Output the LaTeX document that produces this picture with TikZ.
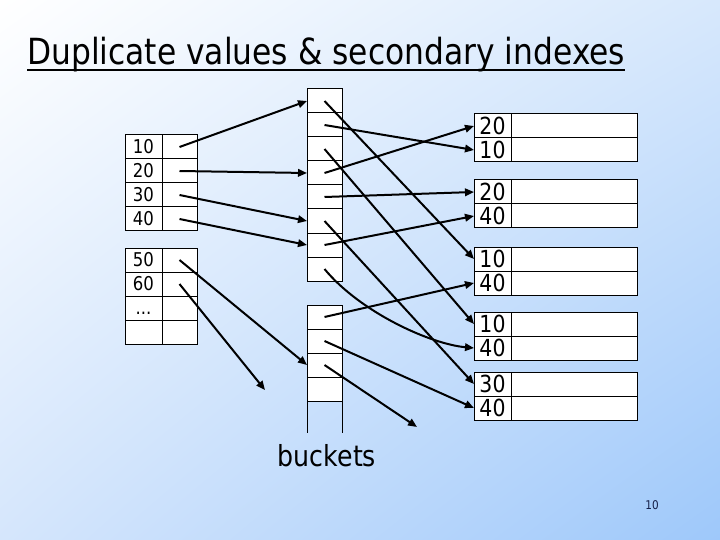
\documentclass[tikz,border=0pt]{standalone}
\usepackage{fontspec}
\usetikzlibrary{arrows.meta,shadings}
\newfontfamily\tah{DejaVu Sans}[FakeStretch=0.87]
\definecolor{bgtr}{RGB}{215,232,252}
\definecolor{bgbl}{RGB}{213,230,252}
\definecolor{bgbr}{RGB}{158,200,250}
\definecolor{pagenum}{RGB}{20,30,70}
\newcommand\tdots{...}
\tikzset{
  cell/.style={draw, line width=1pt, fill=white, inner sep=0pt, outer sep=0pt, anchor=north west, minimum height=24pt},
  kcell/.style={cell, minimum width=37pt, text height=13.5pt, text depth=0pt, font=\tah\fontsize{19}{19}\selectfont},
  pcell/.style={cell, minimum width=35pt},
  bcell/.style={cell, minimum width=35pt},
  rkey/.style={cell, minimum width=37pt, text height=17pt, text depth=0pt, font=\tah\fontsize{23.5}{23.5}\selectfont},
  rrest/.style={cell, minimum width=126pt},
  ptr/.style={line width=2pt, -{Triangle[length=9pt,width=7.5pt]}},
}
\begin{document}
\begin{tikzpicture}[x=1pt,y=-1pt]
\shade[upper left=white, upper right=bgtr, lower left=bgbl, lower right=bgbr] (0,0) rectangle (720,540);
\useasboundingbox (0,0) rectangle (720,540);

% title
\node[anchor=base west, inner sep=0pt, font=\tah\fontsize{36}{36}\selectfont] (title) at (27,65) {Duplicate values \& secondary indexes};
\draw[line width=1.8pt] ([yshift=-5pt]title.base west) -- ([yshift=-5pt]title.base east);

% index table 1
\foreach \v [count=\i] in {10,20,30,40}{
  \node[kcell] (k\i) at (125,{135+24*(\i-1)}) {\v};
  \node[pcell] (p\i) at (162,{135+24*(\i-1)}) {};
}
% index table 2
\foreach \v [count=\i] in {50,60,\tdots,{}}{
  \node[kcell] (m\i) at (125,{248+24*(\i-1)}) {\v};
  \node[pcell] (q\i) at (162,{248+24*(\i-1)}) {};
}

% bucket columns
\foreach \i in {1,...,8}{
  \node[bcell] (b\i) at (307,{89+24*(\i-1)}) {};
}
\foreach \i in {1,...,4}{
  \node[bcell] (c\i) at (307,{305+24*(\i-1)}) {};
}
\draw[line width=1pt] (c4.south west) -- ++(0,32);
\draw[line width=1pt] (c4.south east) -- ++(0,32);
\node[anchor=base, inner sep=0pt, font=\tah\fontsize{29}{29}\selectfont] (blabel) at (327,466) {buckets};

% records
\foreach \ka/\kb [count=\i] in {20/10,20/40,10/40,10/40,30/40}{
  \pgfmathsetmacro{\ty}{{114,180,247,312,372}[\i-1]}
  \node[rkey] (r\i a) at (474,\ty) {\ka};
  \node[rrest] (r\i ax) at (511,\ty) {};
  \node[rkey] (r\i b) at (474,\ty+24) {\kb};
  \node[rrest] (r\i bx) at (511,\ty+24) {};
}

% free ends
\coordinate (free1) at (265,390);
\coordinate (free2) at (417,427);

% index -> buckets
\draw[ptr] (p1.center) -- (b1.west);
\draw[ptr] (p2.center) -- (b4.west);
\draw[ptr] (p3.center) -- (b6.west);
\draw[ptr] (p4.center) -- (b7.west);
\draw[ptr] (q1.center) -- (c3.west);
\draw[ptr] (q2.center) -- (free1);

% buckets -> records
\draw[ptr] (b1.center) -- (r3a.west);
\draw[ptr] (b2.center) -- (r1b.west);
\draw[ptr] (b3.center) -- (r4a.west);
\draw[ptr] (b4.center) -- (r1a.west);
\draw[ptr] (b5.center) -- (r2a.west);
\draw[ptr] (b6.center) -- (r5a.west);
\draw[ptr] (b7.center) -- (r2b.west);
\draw[ptr] (b8.center) .. controls (360,312) and (430,344) .. (r4b.west);
\draw[ptr] (c1.center) -- (r3b.west);
\draw[ptr] (c2.center) -- (r5b.west);
\draw[ptr] (c3.center) -- (free2);

% page number
\node[font=\tah\fontsize{12}{12}\selectfont, text=pagenum, inner sep=0pt] (pnum) at (652,505) {10};
\end{tikzpicture}
\end{document}
